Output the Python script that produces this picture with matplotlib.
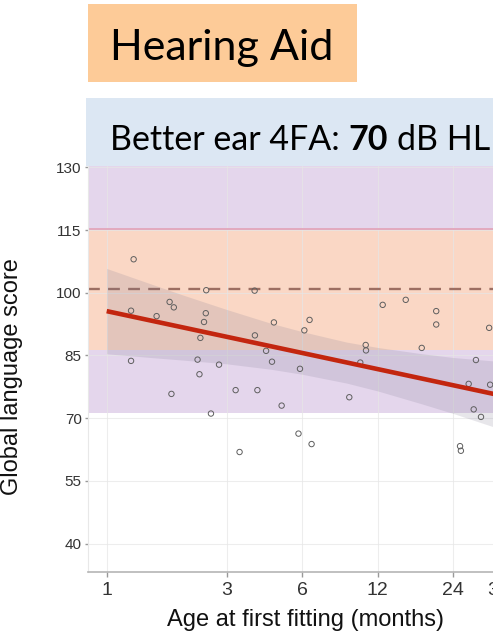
import matplotlib
matplotlib.use('Agg')
import matplotlib.pyplot as plt
import numpy as np
from matplotlib.patches import Rectangle

plt.rcParams['font.family'] = ['Liberation Sans', 'DejaVu Sans']

W, H = 493, 636

# scatter: age at first fitting (months) vs global language score
age_months = [1.28, 1.25, 1.58, 1.78, 1.85, 2.49, 2.48, 2.44, 2.36, 3.88,
              3.89, 4.63, 4.31, 4.55, 1.25, 2.30, 2.80, 2.34, 1.81, 3.26,
              3.98, 2.60, 3.38, 6.42, 6.12, 12.55, 15.5, 20.5, 20.5, 33.3,
              10.74, 10.77, 17.95, 5.88, 10.22, 29.5, 27.6, 33.6, 9.24, 4.97,
              28.9, 30.9, 5.80, 6.54, 25.5, 25.7]
language_score = [108.0, 95.7, 94.4, 97.8, 96.5, 100.6, 95.1, 93.0, 89.2, 100.5,
                  89.8, 92.9, 86.1, 83.5, 83.7, 84.0, 82.8, 80.5, 75.8, 76.7,
                  76.7, 71.1, 61.9, 93.5, 91.0, 97.1, 98.3, 95.6, 92.4, 91.6,
                  87.5, 86.2, 86.8, 81.8, 83.3, 83.9, 78.2, 78.0, 75.0, 73.0,
                  72.1, 70.3, 66.3, 63.8, 63.3, 62.2]

# fitted line and its confidence band
fit_age = [1.0, 40.0]
fit_score = [95.6, 75.0]
ci_age = [1, 1.5, 2, 3, 4.5, 6, 9, 12, 18, 24, 36, 40]
ci_lower = [85.4, 84.5, 83.9, 83.0, 81.7, 80.5, 78.4, 76.5, 73.4, 71.1, 67.6, 66.6]
ci_upper = [105.8, 102.1, 99.5, 96.0, 92.7, 90.7, 88.2, 86.9, 85.4, 84.5, 83.6, 83.4]

# reference zones
norm_mean = 101.0
zone_low = [71.2, 86.2, 115.3]
zone_high = [86.2, 115.3, 131.0]
zone_colors = ['#E4D6EC', '#FAD7C5', '#E4D6EC']

x_ticks = [1, 3, 6, 12, 24, 36]
y_ticks = [40, 55, 70, 85, 100, 115, 130]

fig = plt.figure(figsize=(W / 100, H / 100), dpi=100)


def px(x0, y0, x1, y1):
    """pixel box (top-left origin) -> figure fraction rect"""
    return [x0 / W, 1 - y1 / H, (x1 - x0) / W, (y1 - y0) / H]


ax = fig.add_axes(px(88, 166.3, 540, 572))
ax.set_xscale('log')
ax.set_xlim(0.8425, 53.07)
ax.set_ylim(33.2, 130.24)

for lo, hi, c in zip(zone_low, zone_high, zone_colors):
    ax.axhspan(lo, hi, color=c, lw=0, zorder=0)
ax.axhline(zone_low[2], color='#E2A9BE', lw=1.4, zorder=1)

for xt in x_ticks:
    ax.axvline(xt, color='#E6E6E6', lw=0.8, alpha=0.7, zorder=0.5)
for yt in y_ticks:
    ax.axhline(yt, color='#E6E6E6', lw=0.8, alpha=0.7, zorder=0.5)

ax.axhline(norm_mean, color='#9C6E62', lw=1.7, dashes=(5, 3.5), zorder=2)

ax.fill_between(ci_age, ci_lower, ci_upper, color='#7D7890', alpha=0.18,
                lw=0, zorder=2)
ax.scatter(age_months, language_score, s=15, facecolors='none',
           edgecolors='#5E5E5E', linewidths=0.7, zorder=3)
ax.plot(fit_age, fit_score, color='#C3260F', lw=3.3, solid_capstyle='butt',
        zorder=4)

ax.set_xticks(x_ticks)
ax.set_xticklabels([str(t) for t in x_ticks])
ax.minorticks_off()
ax.set_yticks(y_ticks)
ax.tick_params(axis='x', labelsize=14, colors='#333333', length=3.5,
               width=1, pad=4, color='#999999')
ax.tick_params(axis='y', labelsize=11, colors='#333333', length=2.5,
               width=1, pad=2, color='#999999')

for s in ['top', 'right']:
    ax.spines[s].set_visible(False)
ax.spines['left'].set_color('#E8E8E8')
ax.spines['bottom'].set_color('#B5B5B5')
ax.spines['bottom'].set_linewidth(1.2)

ax.set_xlabel('Age at first fitting (months)', fontsize=17, color='#111111')
ax.xaxis.set_label_coords((305 - 88) / (540 - 88), -(609 - 572) / (572 - 166.3))
ax.set_ylabel('Global language score', fontsize=17, color='#111111')
ax.yaxis.set_label_coords(-(88 - 23) / (540 - 88), (572 - 377) / (572 - 166.3))

# header band above the panel
fig.add_artist(Rectangle(px(86, 98, 493, 166.3)[:2], (493 - 86) / W,
                         (166.3 - 98) / H, transform=fig.transFigure,
                         color='#DCE7F3', lw=0, zorder=0))

# "Hearing Aid" title box
fig.add_artist(Rectangle(px(88, 4, 357, 82)[:2], (357 - 88) / W, (82 - 4) / H,
                         transform=fig.transFigure, color='#FDCB98', lw=0))
fig.text(221.5 / W, 1 - 60 / H, 'Hearing Aid', family='Lato', fontsize=31,
         ha='center', va='baseline', color='black')

# header text with bold value
renderer = fig.canvas.get_renderer()
hsize = 24.5
parts = [('Better ear 4FA:', 'normal'), ('70', 'bold'), ('dB HL', 'normal')]
x = 110 / W
y = 1 - 150 / H
probe = fig.text(0, 0, 'a a', family='Lato', fontsize=hsize)
probe2 = fig.text(0, 0, 'aa', family='Lato', fontsize=hsize)
space = (probe.get_window_extent(renderer).width -
         probe2.get_window_extent(renderer).width) / W
probe.remove()
probe2.remove()
for s, wt in parts:
    t = fig.text(x, y, s, family='Lato', fontsize=hsize, fontweight=wt,
                 ha='left', va='baseline', color='black')
    x += t.get_window_extent(renderer).width / W + space

fig.savefig('out.png', dpi=100)
